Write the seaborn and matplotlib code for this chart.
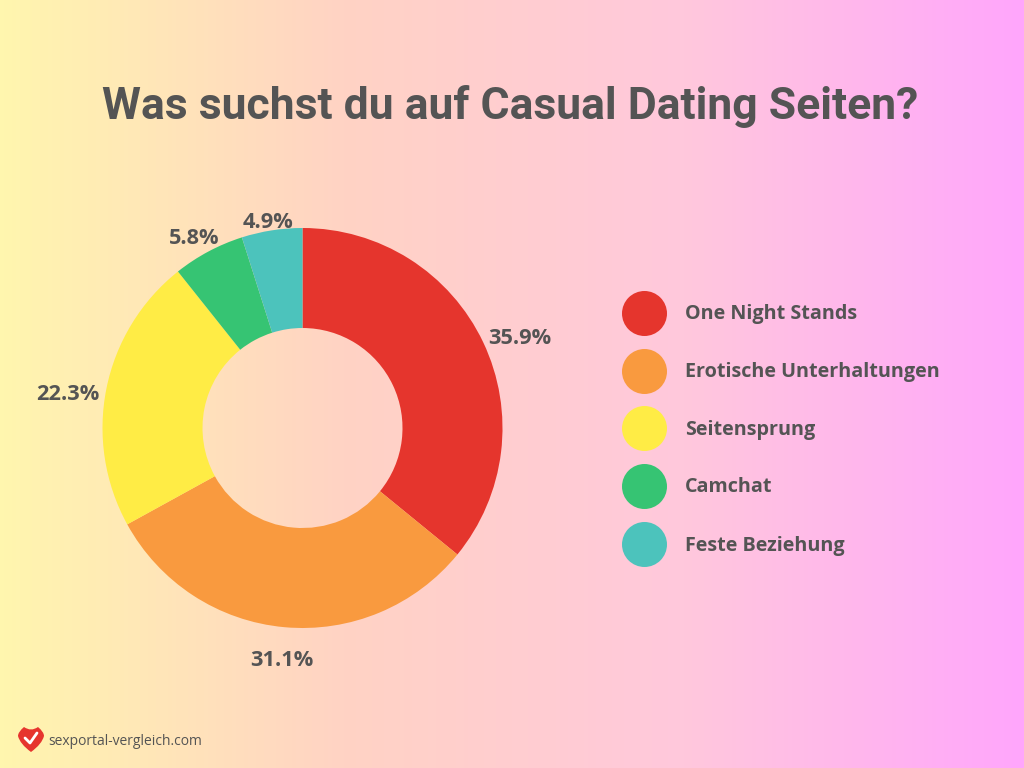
import numpy as np
import matplotlib
matplotlib.use("Agg")
import matplotlib.pyplot as plt
from matplotlib.colors import LinearSegmentedColormap
from matplotlib.patches import PathPatch
from matplotlib.path import Path
import seaborn as sns

sns.set_theme(style="white")
plt.rcParams['font.family'] = ['Open Sans', 'DejaVu Sans']

title = "Was suchst du auf Casual Dating Seiten?"
categories = ["One Night Stands", "Erotische Unterhaltungen", "Seitensprung", "Camchat", "Feste Beziehung"]
values = [35.9, 31.1, 22.3, 5.8, 4.9]
colors = ["#E5352D", "#F99A3F", "#FFEC45", "#36C473", "#4CC3BC"]
footer = "sexportal-vergleich.com"
ink = "#545454"

fig = plt.figure(figsize=(10.24, 7.68), dpi=100)
bg = fig.add_axes([0, 0, 1, 1], zorder=0)
cmap = LinearSegmentedColormap.from_list("g", ["#FFF6AE", "#FFD3C4", "#FFC8DC", "#FFA6FC"])
bg.imshow(np.linspace(0, 1, 512)[None, :], aspect="auto", cmap=cmap, extent=[0, 1024, 768, 0])
bg.set_xlim(0, 1024); bg.set_ylim(768, 0); bg.axis("off")

ax = fig.add_axes([102.5/1024, 1-628/768, 400/1024, 400/768], zorder=1)
ax.patch.set_alpha(0)
wedges, _ = ax.pie(values, colors=colors, startangle=90, counterclock=False, radius=1,
                   wedgeprops=dict(width=0.5, linewidth=0))
ax.set_xlim(-1, 1); ax.set_ylim(-1, 1); ax.set_aspect("equal")

fg = fig.add_axes([0, 0, 1, 1], zorder=2)
fg.patch.set_alpha(0); fg.set_xlim(0, 1024); fg.set_ylim(768, 0); fg.axis("off")

fg.text(510, 106, title, ha="center", va="center", fontsize=32, fontweight="bold", color=ink, family=["Roboto", "DejaVu Sans"])

label_xy = [(520, 337), (282, 659), (68, 393), (194, 237), (268, 221)]
for v, (x, y) in zip(values, label_xy):
    fg.text(x, y + 1, f"{v}%", ha="center", va="center", fontsize=15.7, fontweight="bold", color=ink)

legend_y = [313, 371, 428, 486, 544]
for c, name, y in zip(colors, categories, legend_y):
    fg.scatter([644], [y], s=(45*0.72)**2, color=c, linewidths=0)
    fg.text(685, y + 1.5, name, ha="left", va="center", fontsize=14.2, fontweight="bold", color=ink)

h = Path([(31,752),(20,744),(18,736),(18,732),(24,727),(31,732),(38,727),(44,732),(44,736),(42,744),(31,752)],
         [1]+[Path.CURVE3]*10)
fg.add_patch(PathPatch(h, fc="#E6352E", lw=0))
fg.plot([25,30,37],[738,743,733], color="white", lw=2)
fg.text(48, 741.5, footer, ha="left", va="center", fontsize=10, color=ink)

fig.savefig("out.png", dpi=100)
